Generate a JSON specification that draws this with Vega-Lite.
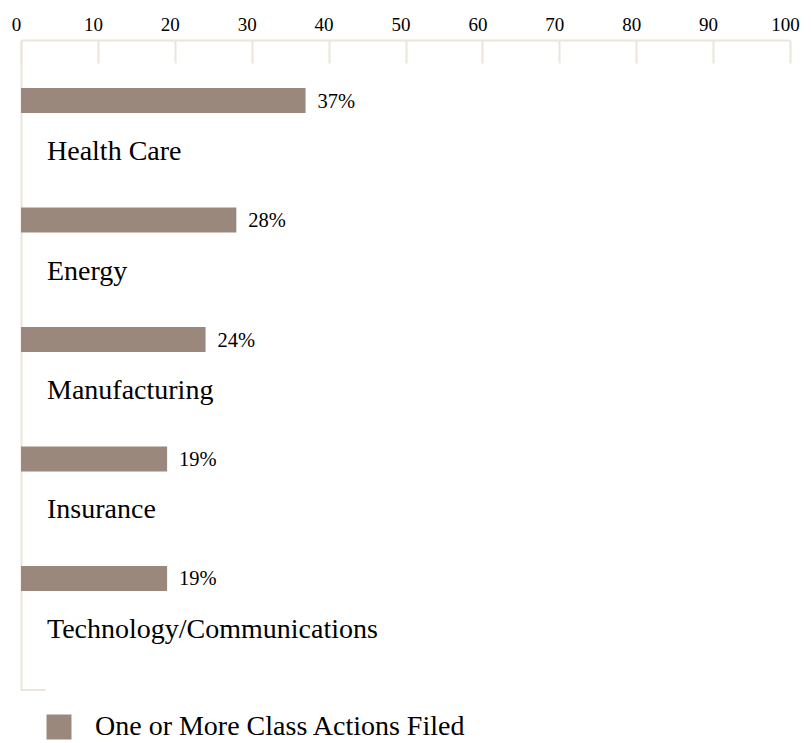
{
  "$schema": "https://vega.github.io/schema/vega-lite/v6.json",
  "width": 769,
  "height": 650,
  "autosize": {"type": "none"},
  "padding": {"left": 21, "top": 40, "right": 21, "bottom": 53},
  "background": "white",
  "config": {
    "view": {"stroke": null},
    "font": "Liberation Serif"
  },
  "data": {
    "values": [
      {"sector": "Health Care", "pct": 37, "series": "One or More Class Actions Filed"},
      {"sector": "Energy", "pct": 28, "series": "One or More Class Actions Filed"},
      {"sector": "Manufacturing", "pct": 24, "series": "One or More Class Actions Filed"},
      {"sector": "Insurance", "pct": 19, "series": "One or More Class Actions Filed"},
      {"sector": "Technology/Communications", "pct": 19, "series": "One or More Class Actions Filed"}
    ]
  },
  "transform": [{"calculate": "datum.pct + '%'", "as": "label"}],
  "layer": [
    {
      "mark": {"type": "bar", "height": 25, "yOffset": -25.5, "color": "#9a887c"},
      "encoding": {
        "y": {
          "field": "sector",
          "type": "nominal",
          "sort": null,
          "scale": {"paddingInner": 0, "paddingOuter": 0.22},
          "axis": {
            "title": null,
            "labels": false,
            "ticks": false,
            "domainColor": "#ebe5dc",
            "domainWidth": 2
          }
        },
        "x": {
          "field": "pct",
          "type": "quantitative",
          "scale": {"domain": [0, 100], "nice": false},
          "axis": {
            "orient": "top",
            "title": null,
            "values": [0, 10, 20, 30, 40, 50, 60, 70, 80, 90, 100],
            "grid": false,
            "domainColor": "#ebe5dc",
            "domainWidth": 2,
            "tickColor": "#ebe5dc",
            "tickWidth": 2,
            "tickSize": -23,
            "labelPadding": 33,
            "labelOffset": -5,
            "labelFont": "Liberation Serif",
            "labelFontSize": 19,
            "labelColor": "#000000",
            "labelFlush": false,
            "labelBaseline": "alphabetic"
          }
        },
        "color": {
          "field": "series",
          "type": "nominal",
          "scale": {"range": ["#9a887c"]},
          "legend": {
            "title": null,
            "orient": "none",
            "legendX": 24,
            "legendY": 673,
            "padding": 0,
            "symbolType": "square",
            "symbolSize": 625,
            "symbolStrokeWidth": 0,
            "symbolOpacity": 1,
            "labelFont": "Liberation Serif",
            "labelFontSize": 28,
            "labelColor": "#000000",
            "labelOffset": 22,
            "labelLimit": 0
          }
        }
      }
    },
    {
      "mark": {"type": "text", "align": "left", "baseline": "middle", "dx": 12, "yOffset": -24.5, "font": "Liberation Serif", "fontSize": 20.5, "color": "#000000"},
      "encoding": {
        "y": {"field": "sector", "type": "nominal", "sort": null},
        "x": {"field": "pct", "type": "quantitative"},
        "text": {"field": "label", "type": "nominal"}
      }
    },
    {
      "mark": {"type": "text", "align": "left", "baseline": "alphabetic", "dx": 26, "dy": 34, "font": "Liberation Serif", "fontSize": 28, "color": "#000000"},
      "encoding": {
        "y": {"field": "sector", "type": "nominal", "sort": null},
        "x": {"datum": 0, "type": "quantitative"},
        "text": {"field": "sector", "type": "nominal"}
      }
    },
    {
      "data": {"values": [{"frame": "corner"}]},
      "mark": {"type": "rule", "color": "#ebe5dc", "strokeWidth": 2, "y": {"expr": "height"}},
      "encoding": {
        "x": {"datum": 0, "type": "quantitative"},
        "x2": {"datum": 3.2}
      }
    }
  ]
}
